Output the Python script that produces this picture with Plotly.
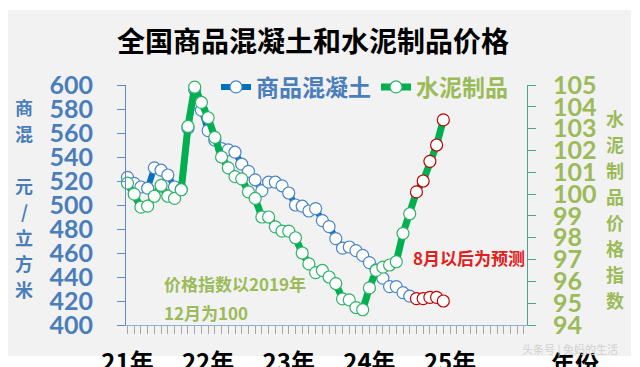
import plotly.graph_objects as go

# ---------------- data ----------------
months = [f"{y}-{m:02d}" for y in (2021, 2022, 2023, 2024) for m in range(1, 13)]
concrete = [523, 518, 515, 514, 531, 529, 525, 515, 513, 564, 596, 579,
            562, 554, 547, 546, 544, 534, 528, 521, 512, 519, 519, 516,
            510, 500, 499, 495, 497, 487, 482, 472, 464, 465, 462, 458,
            452, 446, 439, 432, 432, 427, 424, 422, 422, 423, 423, 420]
cement_index = [100.5, 100.0, 99.4, 99.45, 99.9, 100.4, 99.9, 99.8, 100.2, 103.1, 104.9, 104.2,
                103.5, 102.6, 101.7, 101.2, 100.8, 100.7, 100.1, 99.8, 98.95, 98.95, 98.5, 98.3,
                98.3, 98.0, 97.3, 96.8, 96.4, 96.5, 96.2, 95.9, 95.2, 95.15, 94.8, 94.7,
                95.7, 96.5, 96.65, 96.75, 96.9, 98.2, 99.1, 100.1, 100.6, 101.5, 102.25, 103.4]
forecast_from = "2024-08"
year_labels = ["21年", "22年", "23年", "24年", "25年"]
year_starts = [0, 12, 24, 36, 48]          # month offsets of each January
axis_months = 60                           # axis spans Jan 2021 - Dec 2025

x_idx = list(range(len(months)))

# ---------------- geometry helpers ----------------
# the page body has an 8px margin, so window pixel = figure pixel + 8
OFF = 8
W, H = 640, 367
PLOT_L, PLOT_R, PLOT_T, PLOT_B = 126, 527, 85, 325      # plot box in window pixels
L = PLOT_L - OFF
R = W - (PLOT_R - OFF)
T = PLOT_T - OFF
B = H - (PLOT_B - OFF)
PW, PH = PLOT_R - PLOT_L, PLOT_B - PLOT_T


def px(x):  # window x -> paper
    return (x - PLOT_L) / PW


def py(y):  # window y -> paper
    return (PLOT_B - y) / PH


CJK = "Noto Sans CJK SC"
BLUE_TXT = "#4a7ebb"
GREEN_TXT = "#9BBB59"
RED = "#C00000"

blue_outline = [RED if m >= forecast_from else "#4a86c5" for m in months]
green_outline = [RED if m >= forecast_from else "#2fb36a" for m in months]

fig = go.Figure()
fig.add_trace(go.Scatter(
    x=x_idx, y=concrete, mode="lines+markers",
    name=f"<span style='color:{BLUE_TXT}'>商品混凝土</span>",
    line=dict(color="#0070C0", width=6),
    marker=dict(size=12, color="white", line=dict(color=blue_outline, width=1.2)),
    cliponaxis=False,
))
fig.add_trace(go.Scatter(
    x=x_idx, y=cement_index, mode="lines+markers", yaxis="y2",
    name=f"<span style='color:{GREEN_TXT}'>水泥制品</span>",
    line=dict(color="#00B050", width=7),
    marker=dict(size=12, color="white", line=dict(color=green_outline, width=1.2)),
    cliponaxis=False,
))

annotations = []
# left axis title (vertical)
for ch, y in zip(["商", "混", "元", "/", "立", "方", "米"], [107, 133, 185, 211, 237, 263, 289]):
    annotations.append(dict(text=ch, x=px(24), y=py(y), xref="paper", yref="paper",
                            showarrow=False, xanchor="center", yanchor="middle",
                            font=dict(family=CJK, size=18, color=BLUE_TXT, weight=700)))
# right axis title (vertical)
for i, ch in enumerate("水泥制品价格指数"):
    annotations.append(dict(text=ch, x=px(615), y=py(118 + i * 26), xref="paper", yref="paper",
                            showarrow=False, xanchor="center", yanchor="middle",
                            font=dict(family=CJK, size=18, color=GREEN_TXT, weight=700)))
# notes
annotations.append(dict(text="价格指数以2019年", x=px(162), y=py(283), xref="paper", yref="paper",
                        showarrow=False, xanchor="left", yanchor="middle",
                        font=dict(family=CJK, size=17, color=GREEN_TXT, weight=700)))
annotations.append(dict(text="12月为100", x=px(162), y=py(312), xref="paper", yref="paper",
                        showarrow=False, xanchor="left", yanchor="middle",
                        font=dict(family=CJK, size=17, color=GREEN_TXT, weight=700)))
annotations.append(dict(text="8月以后为预测", x=px(411), y=py(257), xref="paper", yref="paper",
                        showarrow=False, xanchor="left", yanchor="middle",
                        font=dict(family=CJK, size=17, color="#E0201B", weight=700)))
annotations.append(dict(text="年份", x=px(575), y=py(362), xref="paper", yref="paper",
                        showarrow=False, xanchor="center", yanchor="middle",
                        font=dict(family=CJK, size=24, color="black", weight=700)))
annotations.append(dict(text="头条号 | 兔妈的生活", x=px(570), y=py(349), xref="paper", yref="paper",
                        showarrow=False, xanchor="center", yanchor="middle",
                        font=dict(family=CJK, size=11, color="#d0d0d0")))

fig.update_layout(
    width=W, height=H,
    margin=dict(l=L, r=R, t=T, b=B, pad=0, autoexpand=False),
    paper_bgcolor="white", plot_bgcolor="rgba(0,0,0,0)",
    title=dict(text="全国商品混凝土和水泥制品价格", x=(313 - OFF) / W, y=1 - (42 - OFF) / H,
               xanchor="center", yanchor="middle", xref="container", yref="container",
               font=dict(family=CJK, size=28, color="black", weight=700)),
    shapes=[dict(type="rect", xref="paper", yref="paper", x0=px(8), x1=px(631),
                 y0=py(356), y1=py(10), fillcolor="#F2F2F2", line=dict(width=0), layer="below")],
    showlegend=True,
    legend=dict(orientation="h", x=px(216), y=py(87), xanchor="left", yanchor="middle",
                bgcolor="rgba(0,0,0,0)", itemwidth=30,
                font=dict(family=CJK, size=23, weight=700)),
    xaxis=dict(range=[-0.22, axis_months - 0.55], showgrid=False, zeroline=False,
               automargin=False,
               showline=True, linecolor="#8fb0d6", linewidth=1,
               tickvals=year_starts, ticktext=year_labels,
               ticks="outside", ticklen=8, tickcolor="#a6a6a6",
               tickfont=dict(family=CJK, size=24, color="black", weight=700),
               ticklabelstandoff=8,
               minor=dict(dtick=1, tick0=0, ticks="outside", ticklen=8, tickcolor="#a6a6a6")),
    yaxis=dict(range=[400, 600], dtick=20, showgrid=False, zeroline=False,
               automargin=False,
               showline=True, linecolor="#5b8cc4", linewidth=1,
               ticks="outside", ticklen=8, tickcolor="#5b8cc4",
               tickfont=dict(family="Lato", size=25, color=BLUE_TXT, weight=700),
               ticklabelstandoff=19),
    yaxis2=dict(range=[94, 105], dtick=1, overlaying="y", side="right",
                automargin=False,
                showgrid=False, zeroline=False,
                showline=True, linecolor="#4aa58a", linewidth=1,
                ticks="outside", ticklen=8, tickcolor="#4aa58a",
                tickfont=dict(family="Lato", size=25, color=GREEN_TXT, weight=700),
                ticklabelstandoff=12),
    annotations=annotations,
)

fig.write_html("out.html")
